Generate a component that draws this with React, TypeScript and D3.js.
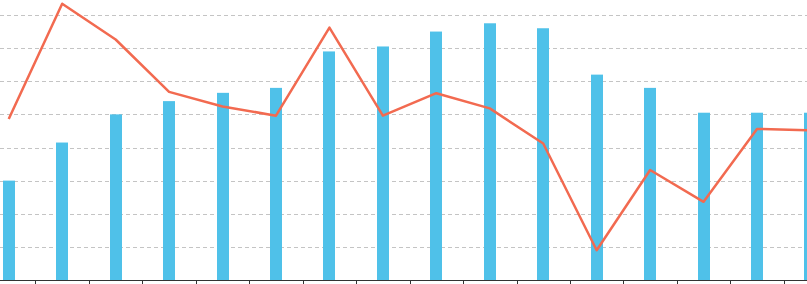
import React from 'react'
import * as d3 from 'd3'

// categories (labels are cut off in the reference, so just indices)
const categories = d3.range(16).map((i) => `c${i}`)

// bar series (left axis)
const barValues = [60, 83, 100, 108, 113, 116, 138, 141, 150, 155, 152, 124, 116, 101, 101, 101]

// line series (right axis)
const lineValues = [24.3, 41.7, 36.3, 28.4, 26.2, 24.8, 38.1, 24.8, 28.2, 25.9, 20.6, 4.5, 16.6, 11.8, 22.8, 22.6]

const gridTicks = [20, 40, 60, 80, 100, 120, 140, 160]

const App = () => {
	const svgWidth = 807,
		svgHeight = 284

	const baseY = 280,
		topY = 15

	const x = d3
		.scaleBand()
		.domain(categories)
		.range([-18, -18 + 53.45 * categories.length])

	const y = d3.scaleLinear().domain([0, 160]).range([baseY, topY])
	const y2 = d3.scaleLinear().domain([0, 40]).range([baseY, topY])

	const barW = 12
	const cx = (c: string) => x(c)! + x.bandwidth() / 2

	const line = d3
		.line<number>()
		.x((d, i) => cx(categories[i]))
		.y((d) => y2(d))

	// tick marks sit on band boundaries
	const tickXs = categories.map((c) => x(c)! + x.bandwidth())

	return (
		<svg
			width={svgWidth}
			height={svgHeight}
			style={{ position: 'absolute', left: 0, top: 0, background: '#fff' }}
		>
			{gridTicks.map((t) => (
				<line
					key={t}
					x1={0}
					x2={svgWidth}
					y1={Math.round(y(t)) + 0.5}
					y2={Math.round(y(t)) + 0.5}
					stroke="#c4c4c4"
					strokeDasharray="4,3"
				/>
			))}
			{barValues.map((v, i) => (
				<rect
					key={i}
					x={Math.round(cx(categories[i]) - barW / 2)}
					y={y(v)}
					width={barW}
					height={baseY - y(v)}
					fill="#4fc1e9"
				/>
			))}
			<line x1={0} x2={svgWidth} y1={baseY + 0.5} y2={baseY + 0.5} stroke="#333" />
			{tickXs.map((tx, i) => (
				<line
					key={i}
					x1={Math.round(tx) + 0.5}
					x2={Math.round(tx) + 0.5}
					y1={baseY}
					y2={baseY + 5}
					stroke="#333"
				/>
			))}
			<path
				d={line(lineValues)!}
				fill="none"
				stroke="#f26a50"
				strokeWidth={2.5}
				strokeLinejoin="round"
			/>
		</svg>
	)
}

export default App
